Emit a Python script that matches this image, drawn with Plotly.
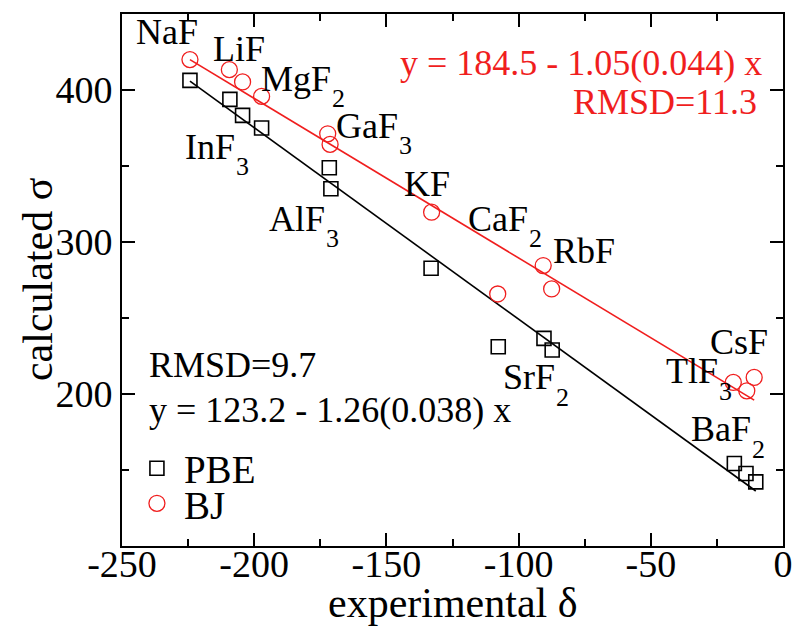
import plotly.graph_objects as go

# ---- data ----
pbe_x = [-224.3, -209.2, -204.4, -197.2, -171.6, -171.0, -133.1, -107.7, -90.4, -87.3, -18.4, -14.0, -10.3]
pbe_y = [406.3, 393.8, 383.3, 375.0, 348.8, 335.0, 282.7, 231.1, 236.6, 228.9, 154.3, 147.7, 142.2]
bj_x = [-224.3, -209.4, -204.4, -197.2, -172.2, -171.3, -132.9, -107.9, -90.7, -87.5, -18.8, -13.7, -10.9]
bj_y = [420.0, 413.4, 405.3, 395.8, 371.2, 364.2, 319.6, 265.8, 284.5, 269.1, 207.6, 202.1, 210.9]

# linear fits y = a + b x
pbe_fit = (123.2, -1.26)
bj_fit = (184.5, -1.05)

x_ticks = [-250, -200, -150, -100, -50, 0]
x_ticktext = ["-250", "-200", "-150", "-100", "-50", "0"]
y_ticks = [200, 300, 400]
y_ticktext = ["200", "300", "400"]

# compound labels: formula body, subscript ("" if none)
label_main = ["NaF", "LiF", "MgF", "GaF", "InF", "AlF", "KF", "CaF", "RbF", "SrF", "TlF", "CsF", "BaF"]
label_sub = ["", "", "2", "3", "3", "3", "", "2", "", "2", "3", "", "2"]
# label placement (data coords): right end of the body text / its vertical middle
label_x = [-220.5, -195.1, -170.2, -145.0, -206.5, -172.5, -125.1, -95.7, -62.7, -85.5, -23.8, -4.9, -11.3]
label_y = [438.4, 427.2, 407.4, 376.5, 362.6, 315.2, 338.3, 315.2, 294.1, 211.1, 215.1, 234.2, 176.9]

SERIF = "Liberation Serif"
RED = "#f01e1e"

fig = go.Figure()

for fit, xs, color in [(pbe_fit, pbe_x, "black"), (bj_fit, bj_x, RED)]:
    x0, x1 = min(xs), max(xs)
    fig.add_trace(go.Scatter(x=[x0, x1], y=[fit[0] + fit[1] * x0, fit[0] + fit[1] * x1],
                             mode="lines", line=dict(color=color, width=1.6),
                             showlegend=False, hoverinfo="skip"))

fig.add_trace(go.Scatter(x=pbe_x, y=pbe_y, mode="markers", name="PBE",
                         marker=dict(symbol="square-open", size=14, color="black",
                                     line=dict(width=1.6, color="black")),
                         legend="legend"))
fig.add_trace(go.Scatter(x=bj_x, y=bj_y, mode="markers", name="BJ",
                         marker=dict(symbol="circle-open", size=16, color=RED,
                                     line=dict(width=1.3, color=RED)),
                         legend="legend2"))

annotations = []
for m, s, lx, ly in zip(label_main, label_sub, label_x, label_y):
    annotations.append(dict(x=lx, y=ly, xref="x", yref="y", text=m, showarrow=False,
                            xanchor="right", yanchor="middle",
                            font=dict(family=SERIF, size=36, color="black")))
    if s:
        annotations.append(dict(x=lx, y=ly, xref="x", yref="y", text=s, showarrow=False,
                                xanchor="left", yanchor="middle", xshift=-3, yshift=-20,
                                font=dict(family=SERIF, size=26, color="black")))

annotations += [
    dict(x=0.4175, y=0.908, xref="paper", yref="paper", text="y = 184.5 - 1.05(0.044) x",
         showarrow=False, xanchor="left", yanchor="middle", font=dict(family=SERIF, size=36, color=RED)),
    dict(x=0.963, y=0.834, xref="paper", yref="paper", text="RMSD=11.3",
         showarrow=False, xanchor="right", yanchor="middle", font=dict(family=SERIF, size=36, color=RED)),
    dict(x=0.0378, y=0.340, xref="paper", yref="paper", text="RMSD=9.7",
         showarrow=False, xanchor="left", yanchor="middle", font=dict(family=SERIF, size=36, color="black")),
    dict(x=0.0378, y=0.2556, xref="paper", yref="paper", text="y = 123.2 - 1.26(0.038) x",
         showarrow=False, xanchor="left", yanchor="middle", font=dict(family=SERIF, size=36, color="black")),
    # axis titles
    dict(x=0.5008, y=-0.107, xref="paper", yref="paper", text="experimental δ",
         showarrow=False, xanchor="center", yanchor="middle", font=dict(family=SERIF, size=42, color="black")),
    dict(x=-0.127, y=0.5, xref="paper", yref="paper", text="calculated σ", textangle=-90,
         showarrow=False, xanchor="center", yanchor="middle", font=dict(family=SERIF, size=42, color="black")),
]

axis_common = dict(showline=True, linecolor="black", linewidth=2, mirror="allticks",
                   ticks="inside", ticklen=13, tickwidth=2, tickcolor="black",
                   showgrid=False, zeroline=False, automargin=False,
                   tickfont=dict(family=SERIF, size=38, color="black"))

fig.update_layout(
    width=797, height=628,
    margin=dict(l=122, r=14, t=14, b=82, autoexpand=False),
    paper_bgcolor="white", plot_bgcolor="white",
    xaxis=dict(range=[-250, 0], tickvals=x_ticks, ticktext=x_ticktext, ticklabelstandoff=-17,
               minor=dict(ticks="inside", ticklen=7, tickwidth=2, tickcolor="black",
                          tickvals=[-225, -175, -125, -75, -25]),
               **axis_common),
    yaxis=dict(range=[100, 450], tickvals=y_ticks, ticktext=y_ticktext,
               minor=dict(ticks="inside", ticklen=7, tickwidth=2, tickcolor="black",
                          tickvals=[150, 250, 350]),
               **axis_common),
    legend=dict(x=0.012, y=0.146, xanchor="left", yanchor="middle", bgcolor="rgba(0,0,0,0)",
                font=dict(family=SERIF, size=39, color="black"), itemwidth=44),
    legend2=dict(x=0.012, y=0.080, xanchor="left", yanchor="middle", bgcolor="rgba(0,0,0,0)",
                 font=dict(family=SERIF, size=39, color="black"), itemwidth=44),
    annotations=annotations,
)

fig.write_html("out.html")
